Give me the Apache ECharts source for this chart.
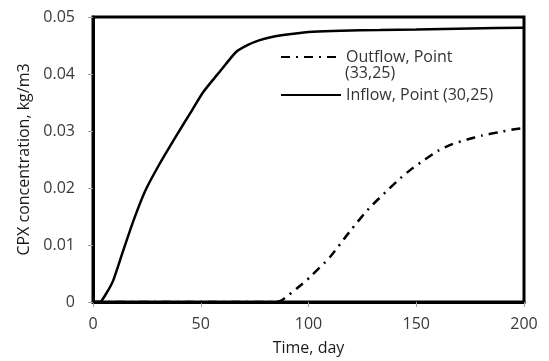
<!DOCTYPE html>
<html>
<head>
<meta charset="utf-8">
<script src="https://cdn.jsdelivr.net/npm/echarts@6/dist/echarts.min.js"></script>
<style>
  html, body { margin: 0; padding: 0; background: #fff; }
  #chart { width: 549px; height: 361px; }
</style>
</head>
<body>
<div id="chart"></div>
<script>
// inflow at point (30,25): [day, kg/m3]
const inflow = [
  [0, 0], [3.2, 0], [6, 0.0014], [9.4, 0.0038], [14, 0.009], [18.7, 0.0142],
  [24.1, 0.0194], [31, 0.0243], [38.7, 0.0292], [44.9, 0.033], [51.1, 0.0368],
  [58.8, 0.0404], [66.5, 0.0439], [71.9, 0.0451], [77, 0.0459], [83, 0.0465],
  [92, 0.047], [102, 0.0474], [115, 0.0476], [133, 0.0477], [150, 0.0478],
  [175, 0.048], [200, 0.0481]
]

// outflow at point (33,25)
const outflow = [
  [0, 0], [85, 0], [88, 0.0004], [95, 0.0025], [100.5, 0.0043], [110, 0.0079],
  [119, 0.0123], [128, 0.0164], [137.5, 0.0199], [142.6, 0.0217], [148, 0.0234],
  [154, 0.025], [160, 0.0265], [166.7, 0.0277], [173.6, 0.0285], [180.5, 0.0292],
  [188.4, 0.0298], [195.4, 0.0303], [200, 0.0305]
]

const xTicks = [0, 200, 50]      // min, max, step
const yTicks = [0, 0.05, 0.01]

const font = '"Open Sans", Lato, sans-serif'
const chart = echarts.init(document.getElementById('chart'))

chart.setOption({
  animation: false,
  color: ['#000', '#000'],
  grid: {
    left: 93, right: 25, top: 17, bottom: 56,
    show: true, borderColor: '#000', borderWidth: 3
  },
  xAxis: {
    type: 'value',
    min: xTicks[0], max: xTicks[1], interval: xTicks[2],
    name: 'Time, day',
    nameLocation: 'middle',
    nameGap: 38,
    nameTextStyle: { fontFamily: font, fontSize: 16, color: '#1a1a1a' },
    axisLine: { show: true, lineStyle: { color: '#000', width: 3 } },
    axisTick: { show: true, inside: false, length: 5, lineStyle: { color: '#a0a0a0' } },
    axisLabel: { fontFamily: font, fontSize: 16, color: '#3a3a3a', margin: 14 },
    splitLine: { show: false }
  },
  yAxis: {
    type: 'value',
    min: yTicks[0], max: yTicks[1], interval: yTicks[2],
    name: 'CPX concentration, kg/m3',
    nameLocation: 'middle',
    nameGap: 61,
    nameTextStyle: { fontFamily: font, fontSize: 16, color: '#1a1a1a' },
    axisLine: { show: true, lineStyle: { color: '#000', width: 3 } },
    axisTick: { show: true, inside: false, length: 5, lineStyle: { color: '#a0a0a0' } },
    axisLabel: { fontFamily: font, fontSize: 16, color: '#3a3a3a', margin: 18 },
    splitLine: { show: false }
  },
  legend: {
    orient: 'vertical',
    left: 275, top: 44,
    itemWidth: 60, itemHeight: 14, itemGap: 22,
    itemStyle: { opacity: 0 },
    textStyle: { fontFamily: font, fontSize: 16, color: '#333' },
    data: ['Outflow, Point', 'Inflow, Point (30,25)']
  },
  graphic: [{
    type: 'text', left: 345, top: 65,
    style: { text: '(33,25)', font: '16px ' + font, fill: '#333' }
  }],
  series: [
    {
      name: 'Outflow, Point',
      type: 'line',
      data: outflow,
      symbol: 'none',
      smooth: 0.2,
      lineStyle: { color: '#000', width: 2.5, type: [9, 6, 2, 6] }
    },
    {
      name: 'Inflow, Point (30,25)',
      type: 'line',
      data: inflow,
      symbol: 'none',
      smooth: 0.2,
      lineStyle: { color: '#000', width: 2.5 }
    }
  ]
})
</script>
</body>
</html>
